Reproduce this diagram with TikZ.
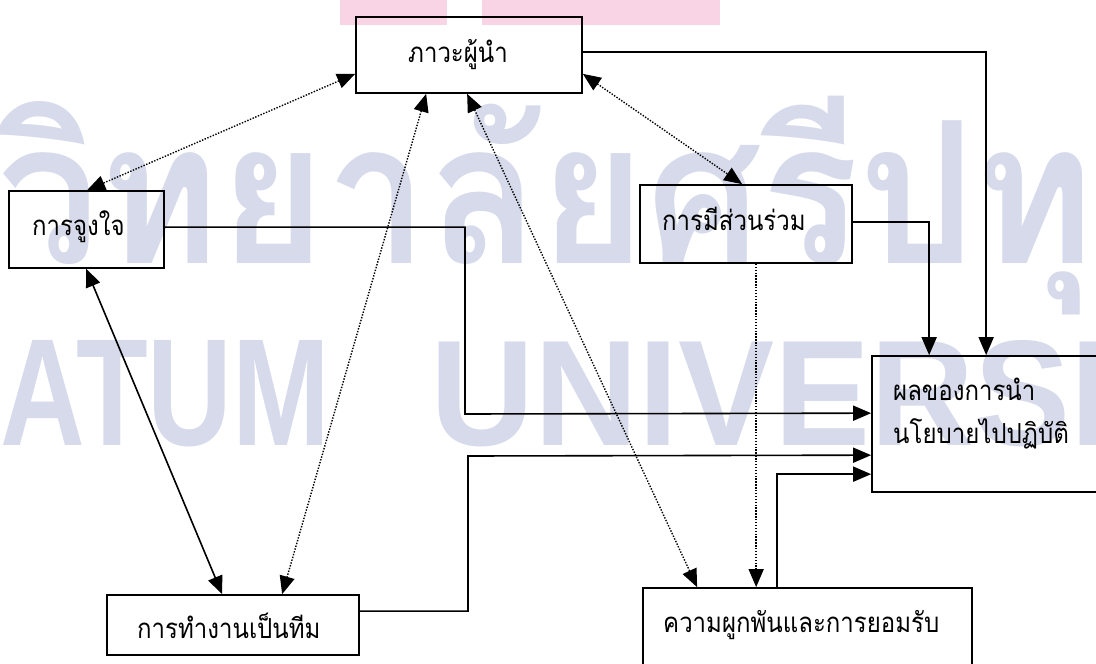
\documentclass[tikz,border=0pt]{standalone}
\usepackage{fontspec}
\usepackage{graphicx}
\usetikzlibrary{arrows.meta,calc}
\newfontfamily\thaifont[Script=Thai]{Loma}
\newfontfamily\wmlatin{Liberation Sans}
\definecolor{wmblue}{HTML}{D6DAEA}
\definecolor{wmpink}{HTML}{F8D4E4}
\newcommand\thtext[1]{\scalebox{1}[1.15]{#1}}
\begin{document}
\begin{tikzpicture}[x=1pt,y=-1pt,
  box/.style 2 args={draw=black, line width=1.7pt, inner sep=0pt, minimum width=#1, minimum height=#2},
  lab/.style={anchor=base west, inner sep=0pt, font=\thaifont\fontsize{24}{28}\selectfont},
  tip/.tip={Triangle[length=18pt,width=15pt]},
  conn/.style={line width=1.6pt, -tip},
  dconn/.style={line width=1.4pt, tip-tip, dash pattern=on 1.4pt off 1.5pt},
  sconn/.style={line width=1.6pt, tip-tip}]
\useasboundingbox (0,0) rectangle (1096,664);
\clip (0,0) rectangle (1096,664);
% watermark
\fill[wmpink] (340,0) rectangle (447,25);
\fill[wmpink] (482,0) rectangle (720,25);
\node[anchor=base west, inner sep=0pt, text=wmblue] (wm1) at (-3,263)
  {\scalebox{0.7}[0.76]{\fontsize{260}{260}\bfseries\thaifont วิทยาลัยศรีปทุม}};
\node[anchor=base west, inner sep=0pt, text=wmblue] (wm2) at (0,445)
  {\resizebox{330pt}{105pt}{\bfseries\wmlatin ATUM}};
\node[anchor=base west, inner sep=0pt, text=wmblue] (wm3) at (430,445)
  {\resizebox{680pt}{105pt}{\bfseries\wmlatin UNIVERSI}};
% boxes
\node[box={226pt}{76pt}] (lead) at (469,55) {};
\node[box={155pt}{77pt}] (motiv) at (86.5,229.5) {};
\node[box={212pt}{78pt}] (part) at (746,224) {};
\node[box={238pt}{136pt}] (result) at (991,424) {};
\node[box={252pt}{60pt}] (team) at (233,625) {};
\node[box={329pt}{112pt}] (commit) at (807.5,644) {};
% labels
\node[lab] (leadt) at (408,62) {\thtext{ภาวะผู้นำ}};
\node[lab] (motivt) at (32,235) {\thtext{การจูงใจ}};
\node[lab] (partt) at (662,230) {\thtext{การมีส่วนร่วม}};
\node[lab] (resultt1) at (893,400) {\thtext{ผลของการนำ}};
\node[lab] (resultt2) at (893,443) {\thtext{นโยบายไปปฏิบัติ}};
\node[lab] (teamt) at (137,638) {\thtext{การทำงานเป็นทีม}};
\node[lab] (committ) at (663,632) {\thtext{ความผูกพันและการยอมรับ}};
% connectors
\draw[dconn] ($(lead.south west)+(0,-20)$) -- ($(motiv.north west)+(79,0)$);
\draw[dconn] ($(lead.south west)+(71,0)$) -- ($(team.north west)+(176,0)$);
\draw[dconn] ($(lead.south west)+(112,0)$) -- ($(commit.north west)+(55,0)$);
\draw[dconn] ($(lead.south east)+(0,-20)$) -- ($(part.north west)+(103,0)$);
\draw[conn] ($(lead.north east)+(0,36)$) -| ($(result.north west)+(115,0)$);
\draw[conn] ($(part.north east)+(0,38)$) -| ($(result.north west)+(58,0)$);
\draw[line width=1.4pt, -tip, dash pattern=on 1.4pt off 1.5pt] ($(part.south west)+(117,0)$) -- ($(commit.north west)+(114,0)$);
\draw[conn] ($(motiv.north east)+(0,37)$) -| (465,414) -- ($(result.north west)+(0,58)$);
\draw[conn] ($(team.north east)+(0,17)$) -| (468,456) -- ($(result.north west)+(0,100)$);
\draw[conn] ($(commit.north west)+(135,0)$) |- ($(result.north west)+(0,119)$);
\draw[sconn] ($(motiv.south west)+(78,0)$) -- ($(team.north west)+(116,0)$);
\end{tikzpicture}
\end{document}
